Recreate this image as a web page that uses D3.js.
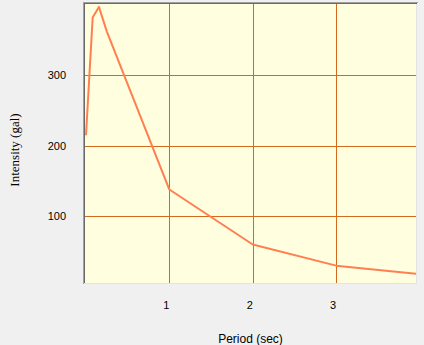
<!DOCTYPE html>
<html><head><meta charset="utf-8">
<script src="https://cdn.jsdelivr.net/npm/d3@7"></script>
<style>
html,body{margin:0;padding:0;background:#f0f0f0;}
svg{display:block;}
</style></head>
<body>
<svg id="chart" width="424" height="345"></svg>
<script>
const periods = [0, 0.08, 0.155, 0.25, 1, 2, 3, 4];
const intensities = [215, 382, 397, 362, 138, 60, 30, 18];
const xTicks = [1, 2, 3];
const yTicks = [100, 200, 300];
const xTitle = "Period (sec)";
const yTitle = "Intensity (gal)";

const svg = d3.select("#chart");
const plot = {x0: 85, y0: 4, x1: 416, y1: 283};

const x = d3.scaleLinear().domain([0, 4]).range([86, 419.5]);
const y = d3.scaleLinear().domain([0, 400]).range([286.8, 4.8]);

svg.append("defs").append("clipPath").attr("id", "clip")
  .append("rect").attr("x", plot.x0).attr("y", plot.y0)
  .attr("width", plot.x1 - plot.x0).attr("height", plot.y1 - plot.y0);

svg.append("rect").attr("x", plot.x0).attr("y", plot.y0)
  .attr("width", plot.x1 - plot.x0).attr("height", plot.y1 - plot.y0)
  .attr("fill", "#ffffe0");

const g = svg.append("g").attr("clip-path", "url(#clip)");

// grid
g.selectAll(".vg").data(xTicks).join("line")
  .attr("x1", d => Math.round(x(d)) + 0.5).attr("x2", d => Math.round(x(d)) + 0.5)
  .attr("y1", plot.y0).attr("y2", plot.y1)
  .attr("stroke", "#d2691e").attr("stroke-width", 1);
g.selectAll(".hg").data(yTicks).join("line")
  .attr("y1", d => Math.round(y(d)) + 0.5).attr("y2", d => Math.round(y(d)) + 0.5)
  .attr("x1", plot.x0).attr("x2", plot.x1)
  .attr("stroke", "#d2691e").attr("stroke-width", 1);

// series
const data = periods.map((p, i) => ({p, v: intensities[i]}));
g.append("path").datum(data)
  .attr("d", d3.line().x(d => x(d.p)).y(d => y(d.v)))
  .attr("fill", "none").attr("stroke", "#ff7f50").attr("stroke-width", 2)
  .attr("stroke-linejoin", "round");

// borders (sunken)
svg.append("line").attr("x1", 83).attr("x2", 83).attr("y1", 2).attr("y2", 284)
  .attr("stroke", "#a0a0a0").attr("stroke-width", 1).attr("transform", "translate(0.5,0)");
svg.append("line").attr("x1", 84).attr("x2", 84).attr("y1", 3).attr("y2", 284)
  .attr("stroke", "#696969").attr("stroke-width", 1).attr("transform", "translate(0.5,0)");
svg.append("line").attr("x1", 83).attr("x2", 418).attr("y1", 2).attr("y2", 2)
  .attr("stroke", "#a0a0a0").attr("stroke-width", 1).attr("transform", "translate(0,0.5)");
svg.append("line").attr("x1", 84).attr("x2", 417).attr("y1", 3).attr("y2", 3)
  .attr("stroke", "#696969").attr("stroke-width", 1).attr("transform", "translate(0,0.5)");
svg.append("line").attr("x1", 416).attr("x2", 416).attr("y1", 4).attr("y2", 284)
  .attr("stroke", "#e3e3e3").attr("stroke-width", 1).attr("transform", "translate(0.5,0)");
svg.append("line").attr("x1", 84).attr("x2", 417).attr("y1", 283).attr("y2", 283)
  .attr("stroke", "#e3e3e3").attr("stroke-width", 1).attr("transform", "translate(0,0.5)");

// tick labels
svg.selectAll(".xt").data(xTicks).join("text")
  .attr("x", d => x(d) - 3).attr("y", 309)
  .attr("text-anchor", "middle")
  .attr("font-family", "Liberation Sans, Arial, sans-serif").attr("font-size", 11)
  .attr("fill", "#000").text(d => d);
svg.selectAll(".yt").data(yTicks).join("text")
  .attr("x", 66).attr("y", d => y(d) + 4)
  .attr("text-anchor", "end")
  .attr("font-family", "Liberation Sans, Arial, sans-serif").attr("font-size", 11)
  .attr("fill", "#000").text(d => d);

// titles
svg.append("text").attr("x", 250.5).attr("y", 343)
  .attr("text-anchor", "middle")
  .attr("font-family", "Liberation Sans, Arial, sans-serif").attr("font-size", 12)
  .attr("fill", "#000").text(xTitle);
svg.append("text").attr("transform", "translate(19,150) rotate(-90)")
  .attr("text-anchor", "middle")
  .attr("font-family", "Liberation Serif, Times New Roman, serif").attr("font-size", 13)
  .attr("fill", "#000").text(yTitle);
</script>
</body></html>
